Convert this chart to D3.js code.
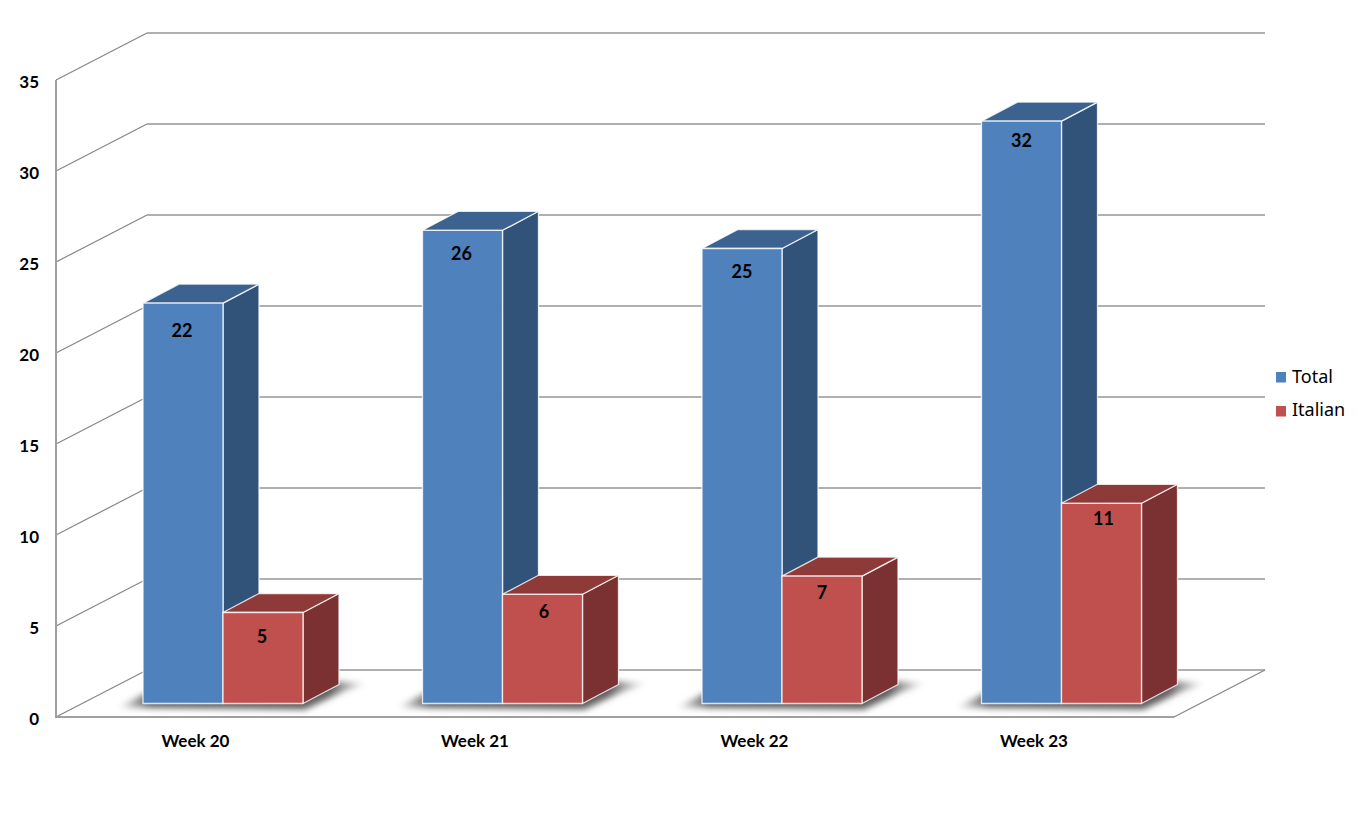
<!DOCTYPE html>
<html><head><meta charset="utf-8">
<style>html,body{margin:0;padding:0;background:#fff}svg{display:block}</style>
<script src="https://cdnjs.cloudflare.com/ajax/libs/d3/7.8.5/d3.min.js"></script>
</head><body><svg id="c" width="1368" height="829"></svg>
<script>
const categories = ["Week 20","Week 21","Week 22","Week 23"];
const seriesNames = ["Total","Italian"];
const totalValues = [22,26,25,32];
const italianValues = [5,6,7,11];
const yTicks = [0,5,10,15,20,25,30,35];
// layout
const plot = {left:56,right:1174,top:80,bottom:717};
const wall = {dx:91,dy:-47};
const bar = {inset:87,width:80,dx:36,dy:-19,floor:13.5};
const labelDrop = {Total:[28,23.5,23,20],Italian:[24,18,17,16]};
const labelShift = {Total:[-1,-1,0,0],Italian:[-1,1.5,0,2]};
const colors = {
  Total:{front:"#4f81bd",top:"#3c628f",side:"#325379"},
  Italian:{front:"#c0504d",top:"#8e3a38",side:"#7b3031"}
};
const svg = d3.select("#c");
const defs = svg.append("defs");
const fLarge = defs.append("filter").attr("id","blur").attr("x","-20%").attr("y","-80%").attr("width","140%").attr("height","260%");
fLarge.append("feGaussianBlur").attr("stdDeviation",3.4);
const g1 = defs.append("linearGradient").attr("id","shadowFade");
g1.append("stop").attr("offset",0).attr("stop-color","#ffffff");
g1.append("stop").attr("offset",0.13).attr("stop-color","#606060");
g1.append("stop").attr("offset",0.85).attr("stop-color","#606060");
g1.append("stop").attr("offset",1).attr("stop-color","#ffffff");

const y = d3.scaleLinear().domain([0,35]).range([plot.bottom,plot.top]);
const x = d3.scaleBand().domain(categories).range([plot.left,plot.right]);
const L = d3.line();

// side wall and back wall gridlines
const grid = svg.append("g").attr("fill","none");
grid.selectAll("line.back").data(yTicks).join("line").attr("class","back")
  .attr("x1",plot.left+wall.dx).attr("x2",plot.right+wall.dx)
  .attr("y1",d=>y(d)+wall.dy).attr("y2",d=>y(d)+wall.dy)
  .attr("stroke","#969696").attr("stroke-width",1.3);
grid.selectAll("line.side").data(yTicks).join("line").attr("class","side")
  .attr("x1",plot.left).attr("x2",plot.left+wall.dx)
  .attr("y1",d=>y(d)).attr("y2",d=>y(d)+wall.dy)
  .attr("stroke","#868686").attr("stroke-width",1.2);
// floor front and right edge, left axis
grid.append("path").attr("d",L([[plot.left,plot.top],[plot.left,plot.bottom],[plot.right,plot.bottom]]))
  .attr("stroke","#a0a0a0").attr("stroke-width",2);
grid.append("path").attr("d",L([[plot.right,plot.bottom],[plot.right+wall.dx,plot.bottom+wall.dy]]))
  .attr("stroke","#868686").attr("stroke-width",1.3);

// tick labels
const axisFont = "Lato, 'Open Sans', sans-serif";
svg.append("g").selectAll("text").data(yTicks).join("text")
  .attr("x",39).attr("y",d=>y(d)+7.5).attr("text-anchor","end")
  .attr("font-family",axisFont).attr("font-weight",700).attr("font-size",17).attr("fill","#000")
  .text(d=>d);
svg.append("g").selectAll("text").data(categories).join("text")
  .attr("x",d=>x(d)+bar.inset+52.5).attr("y",747).attr("text-anchor","middle")
  .attr("font-family",axisFont).attr("font-weight",700).attr("font-size",17).attr("fill","#000")
  .text(d=>d);

const baseY = plot.bottom-bar.floor;
const h = d=>y(0)-y(d);
// shadows
const shadows = svg.append("g");
categories.forEach(c=>{
  const x0 = x(c)+bar.inset, x1 = x0+2*bar.width;
  shadows.append("path")
    .attr("d",L([[x0+6,baseY-12],[x0-26,baseY+4],[x1+2,baseY+6],[x1+bar.dx+4,baseY+bar.dy+7],[x1+bar.dx+28,baseY+bar.dy-1],[x1+bar.dx,baseY+bar.dy-3]])+"Z")
    .attr("fill","url(#shadowFade)").attr("filter","url(#blur)");
});

// bars
const series = [
  {name:"Total",values:totalValues,idx:0},
  {name:"Italian",values:italianValues,idx:1}
];
const barsG = svg.append("g");
categories.forEach((c,ci)=>{
  series.forEach(s=>{
    const v = s.values[ci], col = colors[s.name];
    const x0 = x(c)+bar.inset+s.idx*bar.width, x1 = x0+bar.width;
    const top = baseY-h(v);
    const g = barsG.append("g").attr("stroke","#fff").attr("stroke-opacity",.8).attr("stroke-width",1.3).attr("stroke-linejoin","round");
    g.append("path").attr("fill",col.side).attr("d",L([[x1,baseY],[x1+bar.dx,baseY+bar.dy],[x1+bar.dx,top+bar.dy],[x1,top]])+"Z");
    g.append("path").attr("fill",col.top).attr("d",L([[x0,top],[x1,top],[x1+bar.dx,top+bar.dy],[x0+bar.dx,top+bar.dy]])+"Z");
    g.append("rect").attr("fill",col.front).attr("x",x0).attr("y",top).attr("width",bar.width).attr("height",h(v));
  });
});
// data labels
const labels = svg.append("g");
series.forEach(s=>{
  labels.selectAll("text."+s.name).data(s.values).join("text").attr("class",s.name)
    .attr("x",(d,i)=>x(categories[i])+bar.inset+s.idx*bar.width+bar.width/2+labelShift[s.name][i])
    .attr("y",(d,i)=>baseY-h(d)+labelDrop[s.name][i]+6)
    .attr("text-anchor","middle").attr("font-family",axisFont).attr("font-weight",700).attr("font-size",18).attr("fill","#000")
    .text(d=>d);
});
// legend
const legend = svg.append("g");
seriesNames.forEach((n,i)=>{
  legend.append("rect").attr("x",1276).attr("y",372+i*34).attr("width",10).attr("height",10.5).attr("fill",colors[n].front);
  legend.append("text").attr("x",1292).attr("y",382.5+i*33).attr("font-family","'Noto Sans',sans-serif").attr("font-size",18).attr("fill","#000").text(n);
});
</script></body></html>
